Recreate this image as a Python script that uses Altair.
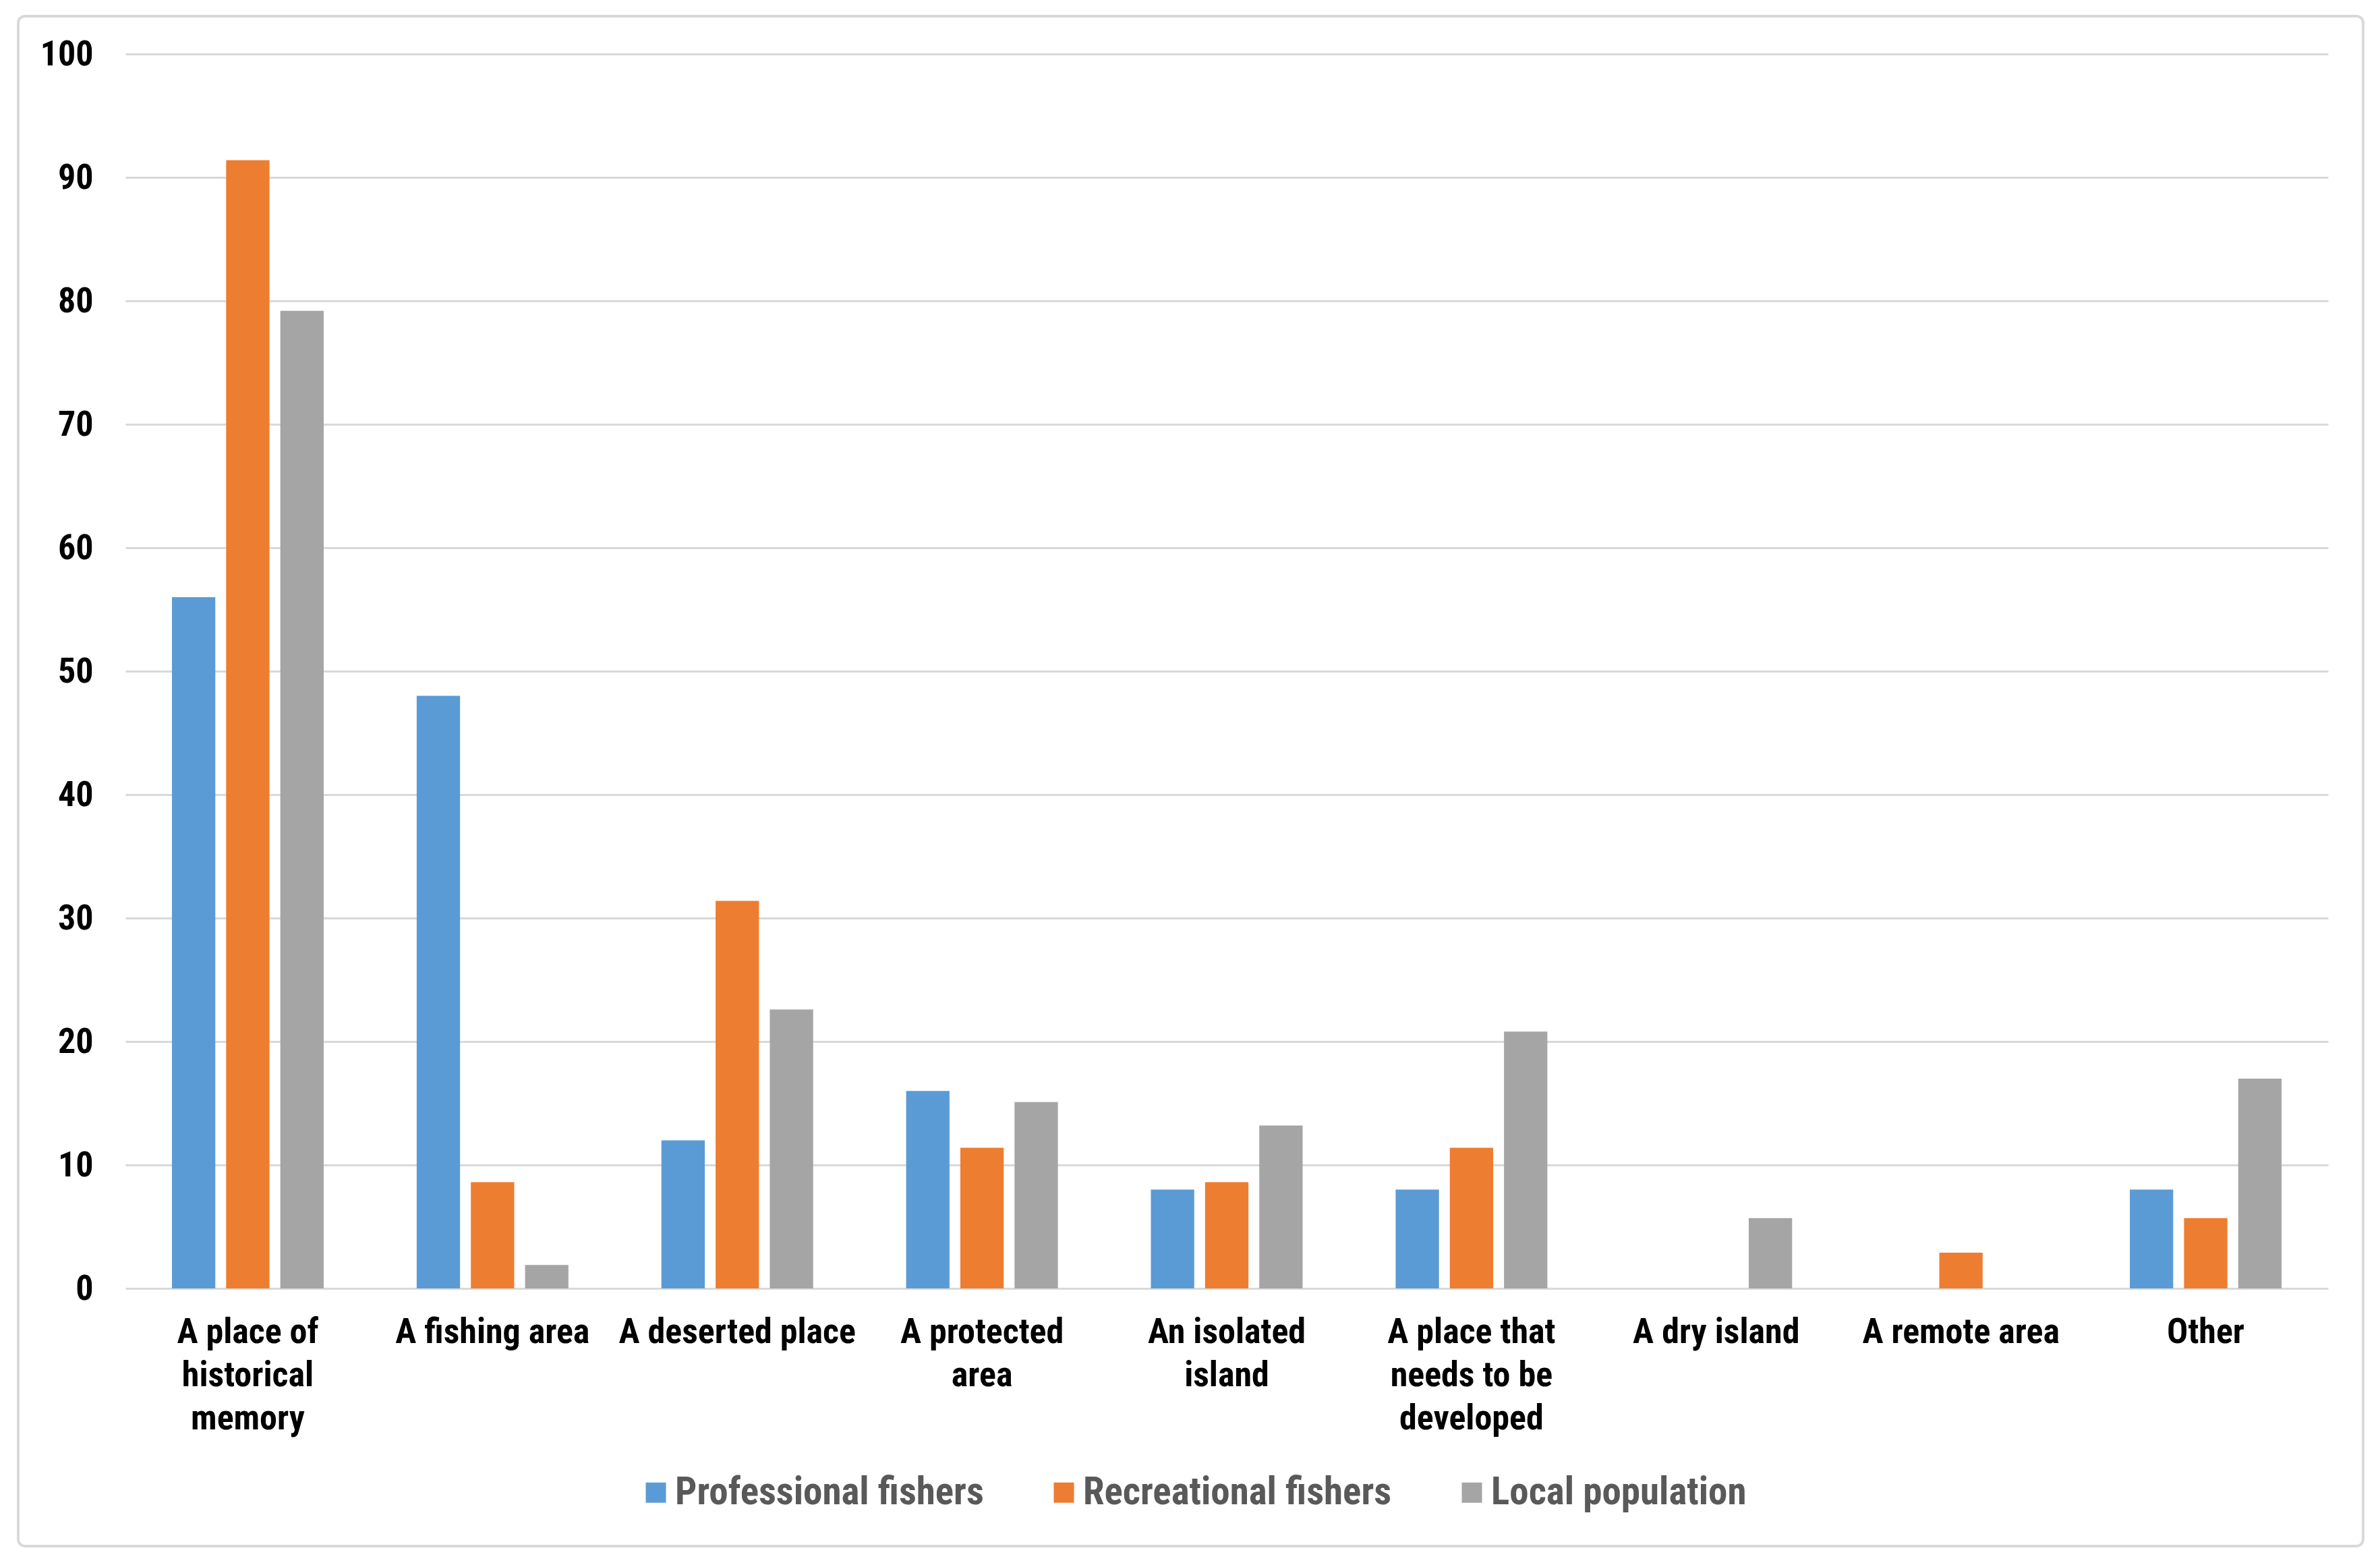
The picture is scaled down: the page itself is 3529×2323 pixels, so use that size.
import json
import altair as alt
import pandas as pd

categories = [
    "A place of historical memory",
    "A fishing area",
    "A deserted place",
    "A protected area",
    "An isolated island",
    "A place that needs to be developed",
    "A dry island",
    "A remote area",
    "Other",
]
label_lines = [
    ["A place of", "historical", "memory"],
    ["A fishing area"],
    ["A deserted place"],
    ["A protected", "area"],
    ["An isolated", "island"],
    ["A place that", "needs to be", "developed"],
    ["A dry island"],
    ["A remote area"],
    ["Other"],
]
groups = ["Professional fishers", "Recreational fishers", "Local population"]
professional = [56, 48, 12, 16, 8, 8, 0, 0, 8]
recreational = [91.4, 8.6, 31.4, 11.4, 8.6, 11.4, 0, 2.9, 5.7]
local = [79.2, 1.9, 22.6, 15.1, 13.2, 20.8, 5.7, 0, 17.0]
colors = ["#5b9bd5", "#ed7d31", "#a5a5a5"]
y_ticks = [0, 10, 20, 30, 40, 50, 60, 70, 80, 90, 100]

rows = []
for g, vals in zip(groups, [professional, recreational, local]):
    for c, v in zip(categories, vals):
        rows.append({"category": c, "group": g, "value": v})
df = pd.DataFrame(rows)

FONT = "Liberation Sans Narrow, Roboto Condensed, Liberation Sans, sans-serif"
label_map = json.dumps({c: l for c, l in zip(categories, label_lines)})

W, H = 3266, 1830
LEFT, TOP = 178, 72

bars = alt.Chart(df).mark_bar().encode(
    x=alt.X(
        "category:N",
        sort=categories,
        title=None,
        scale=alt.Scale(paddingInner=0.38, paddingOuter=0.19),
        axis=alt.Axis(
            labelAngle=0,
            labelExpr=f"{label_map}[datum.value]",
            labelFont=FONT,
            labelFontSize=52,
            labelFontWeight="bold",
            labelColor="#000000",
            labelLineHeight=64,
            labelPadding=39,
            labelLimit=1000,
            domain=False,
            ticks=False,
            grid=False,
        ),
    ),
    xOffset=alt.XOffset("group:N", sort=groups, scale=alt.Scale(paddingInner=0.2)),
    y=alt.Y(
        "value:Q",
        title=None,
        scale=alt.Scale(domain=[0, 100], nice=False),
        axis=alt.Axis(
            values=y_ticks,
            labelFont=FONT,
            labelFontSize=52,
            labelFontWeight="bold",
            labelColor="#000000",
            labelPadding=48,
            domain=False,
            ticks=False,
            grid=True,
            gridColor="#d9d9d9",
            gridWidth=3,
        ),
    ),
    color=alt.Color(
        "group:N",
        sort=groups,
        scale=alt.Scale(domain=groups, range=colors),
        legend=alt.Legend(
            title=None,
            orient="none",
            direction="horizontal",
            legendX=758,
            legendY=2104,
            symbolType="square",
            symbolSize=900,
            symbolStrokeWidth=0,
            labelFont=FONT,
            labelFontSize=57,
            labelFontWeight="bold",
            labelColor="#595959",
            labelOffset=0,
            columnPadding=90,
            labelLimit=1000,
        ),
    ),
)

frame = alt.Chart(pd.DataFrame({"a": [0]})).mark_rect(
    fill=None, stroke="#d9d9d9", strokeWidth=4, cornerRadius=10
).encode(
    x=alt.value(27 - 186),
    x2=alt.value(3504 - 186),
    y=alt.value(24 - 80),
    y2=alt.value(2292 - 80),
)

chart = alt.layer(frame, bars).properties(
    width=W,
    height=H,
    autosize=alt.AutoSizeParams(type="none"),
    padding={"left": LEFT, "top": TOP, "right": 3529 - 16 - LEFT - W, "bottom": 2323 - 16 - TOP - H},
    background="white",
).configure_view(stroke=None)

chart.save("out.html", embed_options={"renderer": "svg", "actions": False})
